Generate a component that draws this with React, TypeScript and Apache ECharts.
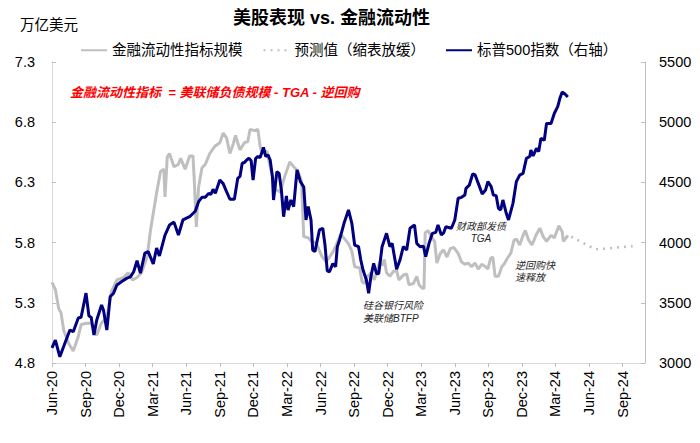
import React, { useEffect, useRef } from 'react';
import * as echarts from 'echarts';

// x = months since Jun-2020
const xLabels = [
  'Jun-20', 'Sep-20', 'Dec-20', 'Mar-21', 'Jun-21', 'Sep-21', 'Dec-21', 'Mar-22', 'Jun-22',
  'Sep-22', 'Dec-22', 'Mar-23', 'Jun-23', 'Sep-23', 'Dec-23', 'Mar-24', 'Jun-24', 'Sep-24',
];

// 金融流动性指标规模 (万亿美元)
const liquidity: [number, number][] = [
  [0, 5.47], [0.3, 5.41], [0.6, 5.25], [0.8, 5.22], [1.05, 5.07], [1.5, 4.96], [1.9, 4.9],
  [2.35, 5.02], [2.6, 5.12], [3.1, 5.13], [3.5, 5.13], [4.0, 5.03], [4.4, 5.13], [4.9, 5.18],
  [5.3, 5.39], [5.8, 5.49], [6.4, 5.51], [6.8, 5.55], [7.2, 5.49], [7.6, 5.51], [8.0, 5.55],
  [8.5, 5.68], [8.8, 5.9], [9.1, 6.07], [9.4, 6.24], [9.7, 6.39], [10.0, 6.41], [10.1, 6.18],
  [10.3, 6.51], [10.5, 6.54], [10.9, 6.43], [11.3, 6.45], [11.5, 6.5], [11.9, 6.41], [12.3, 6.52],
  [12.6, 6.52], [12.7, 6.35], [12.9, 5.93], [13.1, 6.26], [13.4, 6.42], [13.7, 6.45], [14.1, 6.54],
  [14.55, 6.6], [15.0, 6.63], [15.3, 6.71], [15.6, 6.67], [15.9, 6.54], [16.2, 6.62], [16.4, 6.69],
  [16.8, 6.57], [17.2, 6.63], [17.5, 6.64], [17.7, 6.74], [18.1, 6.73], [18.4, 6.74], [18.6, 6.6],
  [18.8, 6.54], [19.2, 6.56], [19.6, 6.39], [20.0, 6.24], [20.4, 6.22], [20.8, 6.35], [21.25, 6.47],
  [21.6, 6.43], [22.0, 6.39], [22.3, 6.31], [22.5, 5.85], [22.9, 5.84], [23.2, 5.81], [23.6, 5.8],
  [24.1, 5.69], [24.5, 5.64], [25.1, 5.72], [25.4, 5.78], [25.8, 5.87], [26.5, 5.79], [26.8, 5.73],
  [27.05, 5.6], [27.5, 5.59], [27.7, 5.48], [27.9, 5.46], [28.2, 5.52], [28.5, 5.55], [28.8, 5.49],
  [29.3, 5.64], [29.5, 5.61], [29.7, 5.66], [29.9, 5.55], [30.2, 5.52], [30.5, 5.56], [30.8, 5.57],
  [31.0, 5.49], [31.4, 5.53], [31.7, 5.54], [31.9, 5.45], [32.3, 5.46], [32.6, 5.52], [32.8, 5.45],
  [33.1, 5.42], [33.25, 5.42], [33.35, 5.88], [33.6, 5.9], [33.9, 5.85], [34.2, 5.81], [34.4, 5.63],
  [34.7, 5.71], [35.0, 5.74], [35.3, 5.68], [35.6, 5.75], [35.9, 5.76], [36.3, 5.71], [36.6, 5.64],
  [36.9, 5.62], [37.2, 5.63], [37.5, 5.6], [37.8, 5.63], [38.1, 5.58], [38.4, 5.62], [38.75, 5.6],
  [38.95, 5.58], [39.2, 5.67], [39.4, 5.68], [39.6, 5.52], [39.9, 5.52], [40.2, 5.6], [40.4, 5.62],
  [40.7, 5.67], [41.0, 5.71], [41.3, 5.82], [41.5, 5.83], [41.8, 5.78], [42.1, 5.86], [42.3, 5.9],
  [42.6, 5.82], [42.9, 5.78], [43.3, 5.87], [43.6, 5.92], [43.9, 5.85], [44.2, 5.81], [44.6, 5.86],
  [44.9, 5.84], [45.3, 5.94], [45.6, 5.89], [45.7, 5.81], [45.95, 5.84], [46.1, 5.86],
];

// 预测值（缩表放缓）
const forecast: [number, number][] = [
  [46.4, 5.85], [47, 5.82], [48, 5.77], [48.6, 5.745], [49.5, 5.75], [50.5, 5.76], [51.9, 5.77],
];

// 标普500指数（右轴）
const sp500: [number, number][] = [
  [0, 3125], [0.3, 3190], [0.7, 3052], [1.16, 3166], [1.6, 3274], [1.9, 3260], [2.35, 3374],
  [2.6, 3380], [3.04, 3580], [3.3, 3390], [3.5, 3380], [3.75, 3233], [4.0, 3357], [4.43, 3482],
  [4.6, 3440], [4.9, 3274], [5.2, 3550], [5.5, 3580], [5.8, 3648], [6.2, 3675], [6.7, 3705],
  [7.0, 3715], [7.3, 3758], [7.6, 3850], [7.9, 3747], [8.3, 3913], [8.6, 3925], [9.05, 3822],
  [9.35, 3955], [9.6, 3889], [10.1, 4063], [10.5, 4146], [10.9, 4170], [11.3, 4063], [11.7, 4188],
  [12.3, 4215], [12.8, 4260], [13.1, 4340], [13.4, 4376], [13.7, 4376], [14.0, 4409], [14.2, 4400],
  [14.4, 4443], [14.6, 4409], [15.0, 4520], [15.3, 4490], [15.6, 4423], [15.9, 4360], [16.3, 4360],
  [16.6, 4534], [16.8, 4550], [17.0, 4659], [17.2, 4665], [17.4, 4686], [17.6, 4700], [17.8, 4680],
  [17.97, 4520], [18.2, 4700], [18.4, 4715], [18.6, 4706], [18.9, 4791], [19.1, 4715], [19.3, 4729],
  [19.5, 4686], [19.7, 4548], [19.8, 4354], [20.1, 4589], [20.3, 4575], [20.5, 4437], [20.7, 4215],
  [20.95, 4387], [21.1, 4271], [21.35, 4354], [21.6, 4299], [21.9, 4603], [22.2, 4506], [22.5, 4462],
  [22.7, 4188], [22.9, 4299], [23.15, 4188], [23.3, 3939], [23.5, 3925], [23.9, 4105], [24.2, 4119],
  [24.4, 3980], [24.6, 3765], [24.8, 3758], [25.1, 3825], [25.35, 3800], [25.5, 3966], [25.7, 4022],
  [26.1, 4160], [26.5, 4271], [26.8, 4160], [27.05, 3980], [27.4, 3966], [27.6, 3855], [27.8, 3772],
  [28.1, 3690], [28.3, 3579], [28.5, 3716], [28.75, 3828], [29.0, 3744], [29.2, 3740], [29.5, 3966],
  [29.9, 4077], [30.2, 3966], [30.4, 3994], [30.8, 3778], [31.1, 3855], [31.4, 3966], [31.7, 3939],
  [32.0, 4119], [32.4, 4146], [32.6, 3994], [32.9, 3966], [33.2, 3970], [33.4, 3883], [33.7, 3994],
  [34.0, 4077], [34.3, 4085], [34.5, 4146], [34.8, 4063], [35.0, 4080], [35.2, 4132], [35.7, 4119],
  [36.0, 4188], [36.3, 4368], [36.6, 4376], [36.9, 4395], [37.0, 4451], [37.3, 4478], [37.6, 4570],
  [37.8, 4565], [38.1, 4492], [38.45, 4404], [38.75, 4437], [38.96, 4506], [39.25, 4465], [39.45, 4395],
  [39.7, 4390], [39.9, 4285], [40.1, 4271], [40.3, 4354], [40.6, 4243], [40.8, 4188], [41.2, 4326],
  [41.5, 4506], [41.8, 4561], [42.1, 4575], [42.4, 4700], [42.7, 4715], [42.8, 4769], [43.0, 4720],
  [43.3, 4783], [43.5, 4756], [43.7, 4866], [44.0, 4850], [44.2, 4990], [44.6, 4990], [44.9, 5074],
  [45.2, 5130], [45.4, 5200], [45.6, 5250], [45.85, 5235], [46.1, 5210],
];

const FONT = '"Liberation Sans", Arial, "Noto Sans CJK SC", sans-serif';
const GRAY = '#BFBFBF';
const NAVY = '#000080';

const App: React.FC = () => {
  const chartRef = useRef<HTMLDivElement>(null);

  useEffect(() => {
    document.body.style.margin = '0';
    if (!chartRef.current) return;
    const chart = echarts.init(chartRef.current, undefined, { renderer: 'svg' });

    const option: echarts.EChartsCoreOption = {
      animation: false,
      backgroundColor: '#fff',
      textStyle: { fontFamily: FONT },
      title: {
        text: '美股表现 vs. 金融流动性',
        left: 233,
        top: 9,
        padding: 0,
        textStyle: { fontSize: 18, fontWeight: 'bold', color: '#000', fontFamily: FONT },
      },
      legend: {
        left: 80,
        top: 43,
        padding: 0,
        itemWidth: 26,
        itemHeight: 14,
        itemGap: 20,
        // hide the symbol in the middle of the line icons
        itemStyle: { opacity: 0 },
        textStyle: { fontSize: 14.5, color: '#000', fontFamily: FONT },
        data: ['金融流动性指标规模', '预测值（缩表放缓）', '标普500指数（右轴）'],
      },
      grid: { left: 52, right: 55, top: 62, bottom: 80, containLabel: false },
      xAxis: {
        type: 'value',
        min: 0,
        max: 53,
        interval: 3,
        axisLine: { show: true, lineStyle: { color: '#D9D9D9', width: 1 } },
        axisTick: { show: true, inside: false, length: 4, lineStyle: { color: GRAY } },
        splitLine: { show: false },
        axisLabel: {
          rotate: 90,
          margin: 8,
          fontSize: 14.5,
          color: '#000',
          fontFamily: FONT,
          showMaxLabel: false,
          formatter: (v: number) => (v % 3 === 0 ? xLabels[v / 3] ?? '' : ''),
        },
      },
      yAxis: [
        {
          type: 'value',
          position: 'left',
          min: 4.8,
          max: 7.3,
          interval: 0.5,
          axisLine: { show: true, lineStyle: { color: '#D9D9D9' } },
          axisTick: { show: true, inside: true, length: 4, lineStyle: { color: GRAY } },
          splitLine: { show: false },
          axisLabel: {
            margin: 17,
            fontSize: 14.5,
            color: '#000',
            fontFamily: FONT,
            formatter: (v: number) => v.toFixed(1),
          },
        },
        {
          type: 'value',
          position: 'right',
          min: 3000,
          max: 5500,
          interval: 500,
          axisLine: { show: true, lineStyle: { color: GRAY } },
          axisTick: { show: true, inside: true, length: 4, lineStyle: { color: GRAY } },
          splitLine: { show: false },
          axisLabel: {
            margin: 14,
            fontSize: 14.5,
            color: '#000',
            fontFamily: FONT,
            formatter: (v: number) => String(Math.round(v)),
          },
        },
      ],
      series: [
        {
          name: '金融流动性指标规模',
          type: 'line',
          yAxisIndex: 0,
          data: liquidity,
          symbol: 'none',
          lineStyle: { color: GRAY, width: 3 },
          itemStyle: { color: GRAY },
        },
        {
          name: '预测值（缩表放缓）',
          type: 'line',
          yAxisIndex: 0,
          data: forecast,
          symbol: 'none',
          lineStyle: { color: GRAY, width: 2.5, type: [2, 5] },
          itemStyle: { color: GRAY },
        },
        {
          name: '标普500指数（右轴）',
          type: 'line',
          yAxisIndex: 1,
          data: sp500,
          symbol: 'none',
          lineStyle: { color: NAVY, width: 3 },
          itemStyle: { color: NAVY },
        },
      ],
      graphic: [
        {
          type: 'text',
          x: 20,
          y: 25,
          style: {
            text: '万亿美元',
            fontSize: 14.5,
            fontFamily: FONT,
            fill: '#000',
            verticalAlign: 'middle',
          },
        },
        {
          type: 'text',
          x: 70,
          y: 92,
          style: {
            text: '金融流动性指标  = 美联储负债规模 - TGA - 逆回购',
            fontSize: 13,
            fontWeight: 'bold',
            fontStyle: 'italic',
            fontFamily: FONT,
            fill: '#FF0000',
            verticalAlign: 'middle',
          },
        },
        {
          type: 'text',
          x: 363,
          y: 298.5,
          style: {
            text: '硅谷银行风险\n美联储BTFP',
            fontSize: 10,
            lineHeight: 13,
            fontStyle: 'italic',
            fontFamily: FONT,
            fill: '#262626',
            verticalAlign: 'top',
          },
        },
        {
          type: 'text',
          x: 481,
          y: 220,
          style: {
            text: '财政部发债\nTGA',
            fontSize: 10,
            lineHeight: 12,
            fontStyle: 'italic',
            fontFamily: FONT,
            fill: '#262626',
            align: 'center',
            verticalAlign: 'top',
          },
        },
        {
          type: 'text',
          x: 515,
          y: 259,
          style: {
            text: '逆回购快\n速释放',
            fontSize: 10,
            lineHeight: 12,
            fontStyle: 'italic',
            fontFamily: FONT,
            fill: '#262626',
            verticalAlign: 'top',
          },
        },
      ],
    };

    chart.setOption(option);
    return () => {
      chart.dispose();
    };
  }, []);

  return <div ref={chartRef} style={{ width: '700px', height: '443px' }} />;
};

export default App;
